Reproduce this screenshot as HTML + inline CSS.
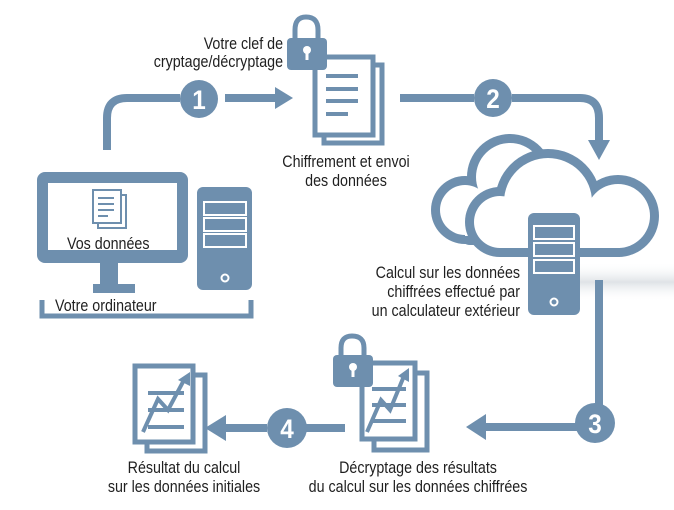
<!DOCTYPE html>
<html><head><meta charset="utf-8"><style>
html,body{margin:0;padding:0;background:#fff;}
svg{display:block}
text{font-family:"Liberation Sans",sans-serif;font-size:17px;fill:#1f1f1f;transform-box:fill-box;transform:scaleX(0.84);transform-origin:left center;}
text.m{transform-origin:center center;}
text.e{transform-origin:right center;}
.n{font-family:"Liberation Sans",sans-serif;font-size:27px;font-weight:bold;fill:#fff;transform:scaleX(0.9);transform-origin:center center;}
</style></head><body>
<svg width="674" height="510" viewBox="0 0 674 510" xmlns="http://www.w3.org/2000/svg">
<defs>
<linearGradient id="sh" x1="0" y1="0" x2="0" y2="1">
<stop offset="0" stop-color="#fff" stop-opacity="0"/><stop offset="0.5" stop-color="#dfe3e7"/><stop offset="1" stop-color="#fff" stop-opacity="0"/>
</linearGradient>
</defs>
<rect x="575" y="262" width="99" height="40" fill="url(#sh)"/>
<g fill="#6e8fae" stroke="none">
<path d="M107,150 V118 Q107,98 127,98 H180" fill="none" stroke="#6e8fae" stroke-width="8"/>
<rect x="225" y="94" width="52" height="8"/>
<polygon points="275,87 293,98 275,109"/>
<circle cx="199" cy="99" r="19"/>
<rect x="400" y="94" width="74" height="8"/>
<path d="M512,98 H580 Q599,98 599,118 V140" fill="none" stroke="#6e8fae" stroke-width="8"/>
<polygon points="588,140 610,140 599,160"/>
<circle cx="493" cy="98" r="19"/>
<rect x="595" y="280" width="8" height="125"/>
<rect x="484" y="423" width="95" height="8"/>
<polygon points="486,414 466,427 486,440"/>
<circle cx="595" cy="423" r="20"/>
<rect x="305" y="424" width="40" height="8"/>
<rect x="222" y="424" width="45" height="8"/>
<polygon points="226,415 205,428 226,441"/>
<circle cx="287" cy="428" r="20"/>
<rect x="37" y="172" width="151" height="91" rx="8"/>
<rect x="100" y="258" width="18" height="28"/>
<rect x="93" y="284" width="42" height="9"/>
<rect x="197" y="187" width="55" height="103" rx="6"/>
<path d="M42,300 V316 H251 V300" fill="none" stroke="#6e8fae" stroke-width="5"/>
</g>
<rect x="48" y="183" width="129" height="67" fill="#fff"/>
<g fill="none" stroke="#fff" stroke-width="2">
<rect x="204" y="202" width="42" height="13"/><rect x="204" y="218" width="42" height="13"/><rect x="204" y="234" width="42" height="13"/>
<circle cx="225" cy="278" r="3.5"/>
</g>
<g fill="none" stroke="#6e8fae" stroke-width="2">
<rect x="98" y="195" width="28" height="33" fill="#fff"/>
<rect x="93" y="190" width="28" height="33" fill="#fff"/>
<path d="M98,198h16M98,204h16M98,210h16M98,216h10"/>
</g>
<text x="67" y="249">Vos données</text>
<text x="55" y="311">Votre ordinateur</text>

<g fill="#fff" stroke="#6e8fae" stroke-width="5">
<rect x="324" y="65" width="58" height="78"/>
<rect x="315" y="57" width="58" height="78"/>
</g>
<g stroke="#6e8fae" stroke-width="4"><path d="M326,76h32M326,89h32M326,101h32M326,114h22"/></g>
<path d="M295,40 V30 Q295,17 306,17 Q318,17 318,30 V40" fill="none" stroke="#6e8fae" stroke-width="5"/>
<rect x="287" y="38" width="40" height="32" rx="4" fill="#6e8fae"/>
<circle cx="307" cy="50" r="4" fill="#fff"/><rect x="305.5" y="50" width="3" height="10" fill="#fff"/>
<text class="e" x="283" y="49" text-anchor="end">Votre clef de</text>
<text class="e" x="283" y="67" text-anchor="end">cryptage/décryptage</text>
<text class="m" x="346" y="167" text-anchor="middle">Chiffrement et envoi</text>
<text class="m" x="346" y="186" text-anchor="middle">des données</text>

<g fill="#6e8fae">
<circle cx="465" cy="210" r="34"/><circle cx="510" cy="177" r="43"/><rect x="460" y="190" width="90" height="55" rx="10"/>
</g>
<g fill="#fff">
<circle cx="465" cy="210" r="25"/><circle cx="510" cy="177" r="34"/><rect x="465" y="195" width="80" height="41"/>
</g>
<g fill="#6e8fae">
<circle cx="500" cy="222" r="35"/><circle cx="548" cy="202" r="53"/><circle cx="618" cy="216" r="41"/><rect x="500" y="205" width="120" height="52"/>
</g>
<g fill="#fff">
<circle cx="500" cy="222" r="26"/><circle cx="548" cy="202" r="44"/><circle cx="618" cy="216" r="32"/><rect x="500" y="210" width="120" height="38"/>
</g>
<rect x="528" y="213" width="52" height="102" rx="6" fill="#6e8fae"/>
<g fill="none" stroke="#fff" stroke-width="2">
<rect x="534" y="226" width="40" height="13"/><rect x="534" y="243" width="40" height="13"/><rect x="534" y="260" width="40" height="13"/>
<circle cx="554" cy="302" r="3.5"/>
</g>
<text class="e" x="520" y="278" text-anchor="end">Calcul sur les données</text>
<text class="e" x="520" y="297" text-anchor="end">chiffrées effectué par</text>
<text class="e" x="520" y="316" text-anchor="end">un calculateur extérieur</text>

<g fill="#fff" stroke="#6e8fae" stroke-width="5">
<rect x="374" y="373" width="53" height="77"/>
<rect x="362" y="363" width="53" height="76"/>
</g>
<g stroke="#6e8fae" stroke-width="4" fill="none"><path d="M372,389h34M372,405h34M372,421h34"/>
<path d="M367,432 L381,400 L390,410 L404,376"/></g>
<polygon points="398,376 409,368 409,382" fill="#6e8fae"/>
<path d="M341,358 V348 Q341,336 352,336 Q364,336 364,348 V358" fill="none" stroke="#6e8fae" stroke-width="5"/>
<rect x="333" y="355" width="40" height="32" rx="4" fill="#6e8fae"/>
<circle cx="353" cy="367" r="4" fill="#fff"/><rect x="351.5" y="367" width="3" height="10" fill="#fff"/>
<text class="m" x="418" y="473" text-anchor="middle">Décryptage des résultats</text>
<text class="m" x="418" y="492" text-anchor="middle">du calcul sur les données chiffrées</text>

<g fill="#fff" stroke="#6e8fae" stroke-width="5">
<rect x="147" y="375" width="58" height="76"/>
<rect x="135" y="366" width="58" height="76"/>
</g>
<g stroke="#6e8fae" stroke-width="4" fill="none"><path d="M148,393h36M148,410h36M148,427h36"/>
<path d="M143,432 L158,399 L168,410 L184,380"/></g>
<polygon points="178,380 190,372 190,386" fill="#6e8fae"/>
<text class="m" x="184" y="473" text-anchor="middle">Résultat du calcul</text>
<text class="m" x="184" y="492" text-anchor="middle">sur les données initiales</text>

<text class="n" x="199" y="109" text-anchor="middle">1</text>
<text class="n" x="493" y="108" text-anchor="middle">2</text>
<text class="n" x="595" y="433" text-anchor="middle">3</text>
<text class="n" x="287" y="438" text-anchor="middle">4</text>
</svg>
</body></html>
